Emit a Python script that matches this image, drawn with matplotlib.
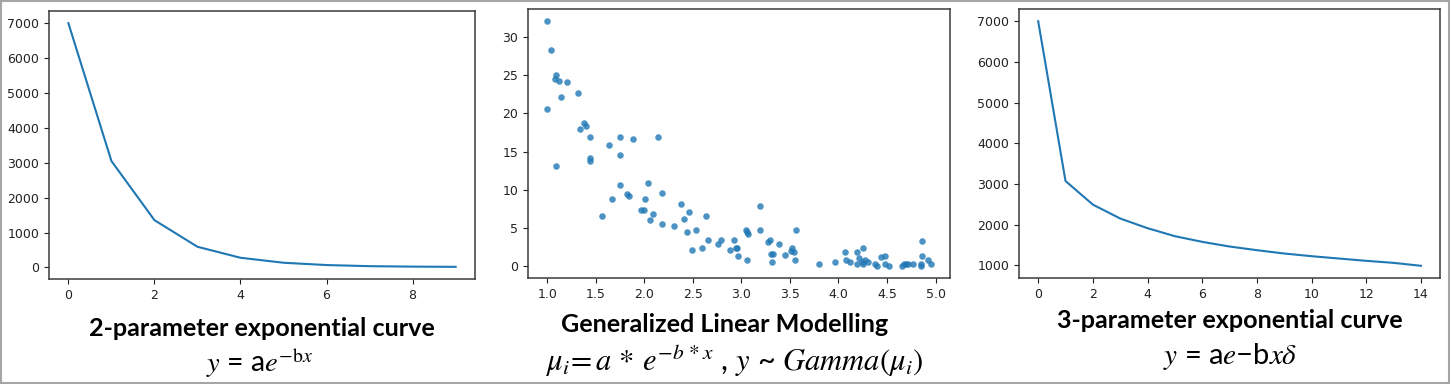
import matplotlib
matplotlib.use("Agg")
import matplotlib.pyplot as plt
from matplotlib.patches import Rectangle

plt.rcParams['mathtext.fontset'] = 'stix'

# 2-parameter curve
x_two = [0, 1, 2, 3, 4, 5, 6, 7, 8, 9]
y_two = [7000, 3050, 1354, 591, 276, 133, 67, 35, 22, 16]

# 3-parameter curve
x_three = list(range(15))
y_three = [7000, 3070, 2490, 2148, 1910, 1713, 1574, 1459, 1369, 1287,
           1221, 1164, 1107, 1057, 985]

# GLM scatter
glm_x = [1.00, 1.04, 1.09, 1.08, 1.12, 1.20, 1.14, 1.32, 1.00, 1.38,
         1.34, 1.40, 1.44, 1.75, 1.88, 2.14, 1.64, 1.75, 1.44, 1.44,
         1.09, 1.75, 2.04, 2.18, 1.67, 1.82, 1.84, 2.01, 1.57, 1.97,
         2.00, 2.09, 2.06, 2.18, 2.31, 2.38, 2.46, 2.41, 2.44, 2.53,
         2.64, 2.49, 2.59, 2.66, 2.76, 2.79, 2.88, 2.92, 2.94, 2.97,
         2.96, 3.05, 3.06, 3.07, 3.06, 3.19, 3.19, 3.27, 3.29, 3.31,
         3.33, 3.32, 3.39, 3.45, 3.52, 3.51, 3.54, 3.56, 3.55, 3.80,
         3.96, 4.07, 4.08, 4.12, 4.19, 4.25, 4.19, 4.21, 4.24, 4.27,
         4.30, 4.25, 4.38, 4.40, 4.44, 4.48, 4.48, 4.52, 4.65, 4.68,
         4.70, 4.72, 4.77, 4.85, 4.85, 4.86, 4.86, 4.92, 4.95]
glm_y = [32.1, 28.3, 25.0, 24.5, 24.3, 24.1, 22.2, 22.7, 20.6, 18.7,
         18.0, 18.3, 16.9, 16.9, 16.7, 16.9, 15.9, 14.6, 14.1, 13.8,
         13.1, 10.6, 10.9, 9.6, 8.8, 9.4, 9.1, 8.8, 6.6, 7.3,
         7.3, 6.8, 6.0, 5.5, 5.2, 8.1, 7.0, 6.2, 4.5, 4.7,
         6.6, 2.1, 2.4, 3.4, 2.9, 3.4, 2.1, 3.4, 2.3, 1.3,
         2.3, 4.7, 4.5, 4.2, 0.8, 7.9, 4.7, 3.1, 3.4, 1.6,
         1.6, 0.5, 2.9, 1.4, 2.4, 2.0, 1.8, 4.7, 0.7, 0.2,
         0.5, 1.8, 0.8, 0.5, 1.8, 2.3, 0.2, 1.0, 0.5, 0.8,
         0.5, 0.2, 0.3, 0.0, 1.1, 1.3, 0.3, 0.0, 0.0, 0.3,
         0.2, 0.2, 0.2, 0.3, 0.0, 3.3, 1.3, 0.8, 0.3]

blue = '#1f77b4'
spine_col = '#3a3a3a'
tick_size = 9

fig = plt.figure(figsize=(14.5, 3.84), dpi=100)

ax1 = fig.add_axes([0.0338, 0.2734, 0.2938, 0.698])
ax2 = fig.add_axes([0.3641, 0.2760, 0.2910, 0.7005])
ax3 = fig.add_axes([0.7028, 0.2760, 0.2903, 0.7005])

ax1.plot(x_two, y_two, color=blue, lw=1.5)
ax2.scatter(glm_x, glm_y, s=22, color=blue, alpha=0.8, linewidths=0)
ax3.plot(x_three, y_three, color=blue, lw=1.5)

ax1.set_xticks([0, 2, 4, 6, 8])
ax1.set_yticks(range(0, 7001, 1000))
ax2.set_xticks([1.0, 1.5, 2.0, 2.5, 3.0, 3.5, 4.0, 4.5, 5.0])
ax2.set_yticks([0, 5, 10, 15, 20, 25, 30])
ax3.set_xticks(range(0, 15, 2))
ax3.set_yticks(range(1000, 7001, 1000))

for ax in (ax1, ax2, ax3):
    ax.tick_params(labelsize=tick_size, colors='#222222', length=3.5)
    for sp in ax.spines.values():
        sp.set_color(spine_col)
        sp.set_linewidth(1.1)

title_font = dict(family='Lato', weight='bold', fontsize=18.1, color='black',
                  ha='center', va='center')
eq_font = dict(family='Lato', color='black', ha='center', va='center')

fig.text(262 / 1450, 1 - 328 / 384, '2-parameter exponential curve', **title_font)
fig.text(260 / 1450, 1 - 363 / 384, r'$y$ = a$e^{-\mathrm{b}x}$', fontsize=20.5, **eq_font)

fig.text(725 / 1450, 1 - 325 / 384, 'Generalized Linear Modelling', **title_font)
fig.text(734 / 1450, 1 - 361 / 384,
         r'$\mu_i\!= a\,*\,e^{-b\,*x}$ , $y$ ~ $Gamma(\mu_i)$', fontsize=22, **eq_font)

fig.text(1230 / 1450, 1 - 320 / 384, '3-parameter exponential curve', **title_font)
fig.text(1230 / 1450, 1 - 356 / 384, r'$y$ = a$e$−b$x\delta$', fontsize=21, **eq_font)

# outer frame of the composite
fig.patches.append(Rectangle((0.001, 0.002), 0.998, 0.995, transform=fig.transFigure,
                             fill=False, edgecolor='#a6a6a6', lw=1.5))

fig.savefig('out.png', dpi=100)
